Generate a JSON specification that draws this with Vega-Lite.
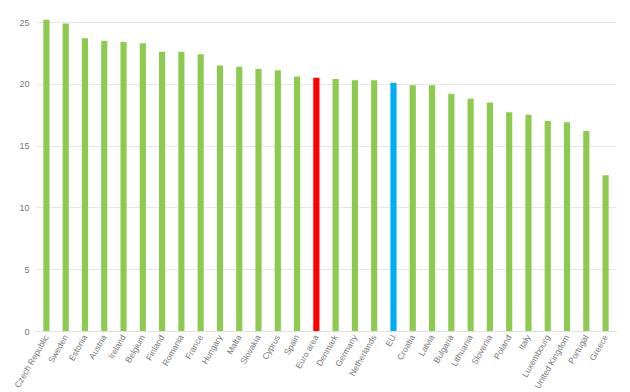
{
  "$schema": "https://vega.github.io/schema/vega-lite/v6.json",
  "width": 580,
  "height": 315,
  "autosize": {"type": "none"},
  "padding": {"left": 36, "top": 16, "right": 14, "bottom": 61},
  "background": "white",
  "config": {"view": {"stroke": null}, "font": "Liberation Sans"},
  "data": {
    "values": [
      {"country": "Czech Republic", "value": 25.2, "group": "country"},
      {"country": "Sweden", "value": 24.9, "group": "country"},
      {"country": "Estonia", "value": 23.7, "group": "country"},
      {"country": "Austria", "value": 23.5, "group": "country"},
      {"country": "Ireland", "value": 23.4, "group": "country"},
      {"country": "Belgium", "value": 23.3, "group": "country"},
      {"country": "Finland", "value": 22.6, "group": "country"},
      {"country": "Romania", "value": 22.6, "group": "country"},
      {"country": "France", "value": 22.4, "group": "country"},
      {"country": "Hungary", "value": 21.5, "group": "country"},
      {"country": "Malta", "value": 21.4, "group": "country"},
      {"country": "Slovakia", "value": 21.2, "group": "country"},
      {"country": "Cyprus", "value": 21.1, "group": "country"},
      {"country": "Spain", "value": 20.6, "group": "country"},
      {"country": "Euro area", "value": 20.5, "group": "euro"},
      {"country": "Denmark", "value": 20.4, "group": "country"},
      {"country": "Germany", "value": 20.3, "group": "country"},
      {"country": "Netherlands", "value": 20.3, "group": "country"},
      {"country": "EU", "value": 20.1, "group": "eu"},
      {"country": "Croatia", "value": 19.9, "group": "country"},
      {"country": "Latvia", "value": 19.9, "group": "country"},
      {"country": "Bulgaria", "value": 19.2, "group": "country"},
      {"country": "Lithuania", "value": 18.8, "group": "country"},
      {"country": "Slovenia", "value": 18.5, "group": "country"},
      {"country": "Poland", "value": 17.7, "group": "country"},
      {"country": "Italy", "value": 17.5, "group": "country"},
      {"country": "Luxembourg", "value": 17.0, "group": "country"},
      {"country": "United Kingdom", "value": 16.9, "group": "country"},
      {"country": "Portugal", "value": 16.2, "group": "country"},
      {"country": "Greece", "value": 12.6, "group": "country"}
    ]
  },
  "mark": {"type": "bar"},
  "encoding": {
    "x": {
      "field": "country",
      "type": "nominal",
      "sort": null,
      "scale": {"paddingInner": 0.68, "paddingOuter": 0.38},
      "axis": {
        "title": null,
        "labelAngle": -60,
        "labelFontSize": 8.5,
        "labelColor": "#777777",
        "ticks": false,
        "domainColor": "#e0e0e0",
        "labelPadding": 4
      }
    },
    "y": {
      "field": "value",
      "type": "quantitative",
      "scale": {"domain": [0, 25.5], "nice": false},
      "axis": {
        "title": null,
        "values": [0, 5, 10, 15, 20, 25],
        "domain": false,
        "ticks": false,
        "labelFontSize": 9,
        "labelColor": "#777777",
        "labelPadding": 7,
        "gridColor": "#e6e6e6"
      }
    },
    "color": {
      "field": "group",
      "type": "nominal",
      "scale": {"domain": ["country", "euro", "eu"], "range": ["#8dcb50", "#ff0000", "#00aeef"]},
      "legend": null
    }
  }
}
